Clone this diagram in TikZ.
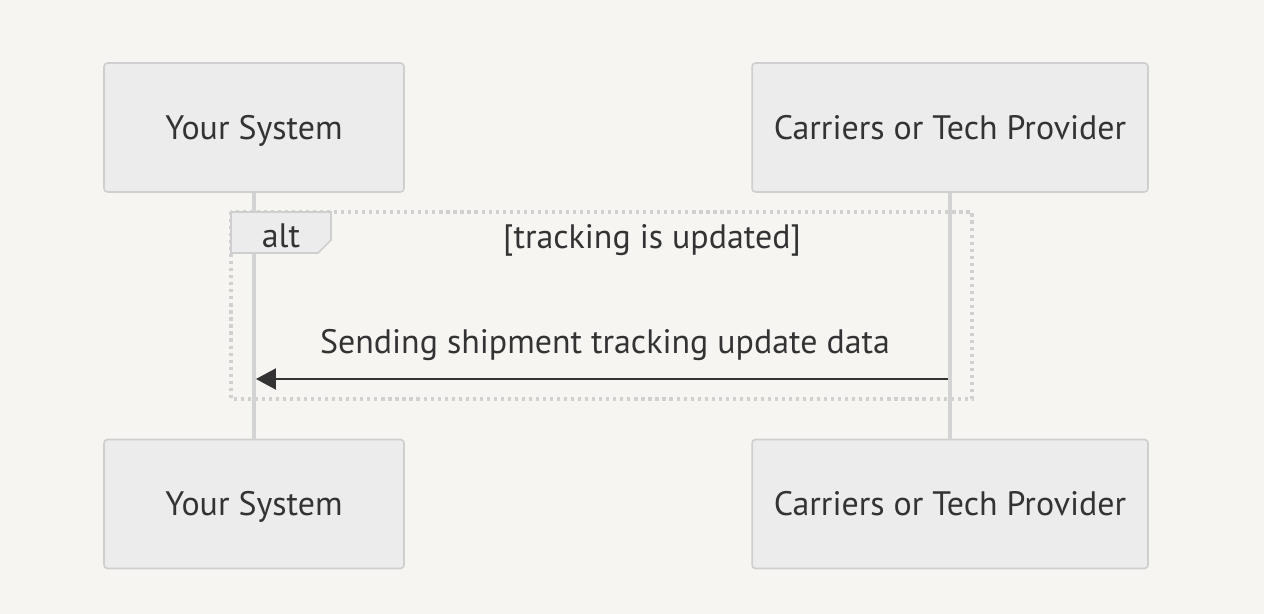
\documentclass[tikz,border=0pt]{standalone}
\usepackage{fontspec}
\setmainfont{PT Sans}
\usetikzlibrary{positioning,arrows.meta}
\definecolor{bgcol}{HTML}{F6F5F2}
\definecolor{boxfill}{HTML}{ECECEC}
\definecolor{boxline}{HTML}{CFCFCF}
\definecolor{lifecol}{HTML}{D3D3D3}
\definecolor{dotcol}{HTML}{D0D0D0}
\definecolor{txtcol}{HTML}{333333}
\tikzset{
  lbl/.style={text height=13.6pt,text depth=0pt,inner sep=0pt},
  actor/.style={lbl,draw=boxline,fill=boxfill,rounded corners=2pt,line width=0.9pt,minimum width=6cm,minimum height=2.58cm,text=txtcol},
  lifeline/.style={draw=lifecol,line width=2.1pt},
  altframe/.style={draw=dotcol,line width=2pt,dash pattern=on 1.8pt off 2.2pt},
  msgarrow/.style={draw=txtcol,line width=1.2pt,-{Triangle[length=0.4cm,width=0.42cm]}}
}

\begin{document}
\begin{tikzpicture}[x=0.02cm,y=-0.02cm,font=\fontsize{19.3}{22}\selectfont,text=txtcol]
                \fill[bgcol] (0,0) rectangle (1264,614);
                \useasboundingbox (0,0) rectangle (1264,614);
                % actors
                \node[actor] (ysTop) at (254,127.5) {Your System};
                \node[actor,minimum width=7.92cm] (cpTop) at (950,127.5) {Carriers or Tech Provider};
                \node[actor] (ysBot) at (254,504) {Your System};
                \node[actor,minimum width=7.92cm] (cpBot) at (950,504) {Carriers or Tech Provider};
                % alt block
                \draw[altframe] (231,212) rectangle (972,399);
                \draw[lifeline] (ysTop) -- (ysBot);
                \draw[lifeline] (cpTop) -- (cpBot);
                \draw[fill=boxfill,draw=boxline,line width=0.9pt] (231,212) -- (331,212) -- (331,240) -- (318,253) -- (231,253) -- cycle;
                \node[lbl] (altLbl) at (281,236) {alt};
                \node[lbl] (altCond) at (652,237) {[tracking is updated]};
                % message
                \coordinate (sendFrom) at (948,379);
                \coordinate (sendTo) at (256,379);
                \node[lbl] (sendLbl) at (605,342) {Sending shipment tracking update data};
                \draw[msgarrow] (sendFrom) -- (sendTo);
            \end{tikzpicture}
\end{document}
